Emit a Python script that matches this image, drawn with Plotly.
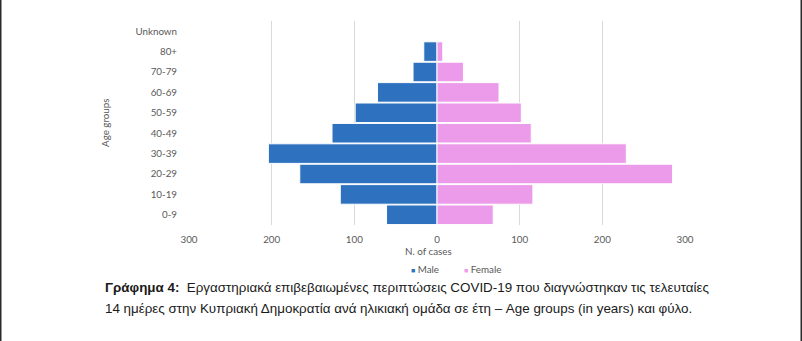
import plotly.graph_objects as go

# Age groups, bottom to top
age_groups = ["0-9", "10-19", "20-29", "30-39", "40-49", "50-59",
              "60-69", "70-79", "80+", "Unknown"]
male = [61, 117, 166, 204, 127, 99, 72, 29, 16, 0]
female = [68, 116, 285, 229, 114, 102, 75, 32, 7, 0]

tick_values = [-300, -200, -100, 0, 100, 200, 300]
tick_labels = ["300", "200", "100", "0", "100", "200", "300"]

MALE_COLOR = "#2E72BF"
FEMALE_COLOR = "#EC9AEA"
AXIS_TEXT = "#595959"

W, H = 802, 341
L, R, T, B = 189, 117, 21, 116
PW, PH = W - L - R, H - T - B


def px_x(p):
    return (p - L) / PW


def px_y(p):
    return (H - B - p) / PH


fig = go.Figure()
fig.add_trace(go.Bar(
    y=age_groups, x=[-v for v in male], orientation="h", name="Male",
    marker=dict(color=MALE_COLOR, line=dict(color="white", width=1)),
))
fig.add_trace(go.Bar(
    y=age_groups, x=female, orientation="h", name="Female",
    marker=dict(color=FEMALE_COLOR, line=dict(color="white", width=1)),
))

fig.update_layout(
    width=W, height=H,
    margin=dict(l=L, r=R, t=T, b=B),
    paper_bgcolor="white", plot_bgcolor="white",
    barmode="overlay", bargap=0.04,
    font=dict(family="Lato, Carlito, sans-serif", size=9.8, color=AXIS_TEXT),
    showlegend=False,
    xaxis=dict(range=[-300, 300], tickvals=tick_values, ticktext=tick_labels,
               showgrid=True, gridcolor="#D9D9D9", gridwidth=1,
               zeroline=False, showline=False, ticks="outside", ticklen=5,
               tickcolor="rgba(0,0,0,0)", fixedrange=True),
    yaxis=dict(categoryorder="array", categoryarray=age_groups,
               showgrid=False, zeroline=False, showline=False,
               ticks="outside", ticklen=9, tickcolor="rgba(0,0,0,0)"),
)

small = dict(size=9.8, color=AXIS_TEXT)

# axis titles
fig.add_annotation(text="N. of cases", xref="paper", yref="paper",
                   x=px_x(428), y=px_y(251), xanchor="center", yanchor="middle",
                   showarrow=False, font=small)
fig.add_annotation(text="Age groups", xref="paper", yref="paper",
                   x=px_x(105), y=px_y(123), textangle=-90, xanchor="center",
                   yanchor="middle", showarrow=False, font=small)

# legend entries
fig.add_annotation(text=f"<span style='color:{MALE_COLOR};font-size:7px'>■</span> Male",
                   xref="paper", yref="paper", x=px_x(409), y=px_y(269),
                   xanchor="left", yanchor="middle", showarrow=False, font=small)
fig.add_annotation(text=f"<span style='color:{FEMALE_COLOR};font-size:7px'>■</span> Female",
                   xref="paper", yref="paper", x=px_x(462), y=px_y(269),
                   xanchor="left", yanchor="middle", showarrow=False, font=small)

# caption
cap_font = dict(family="Liberation Sans, Arial, sans-serif", size=13.4, color="#1a1a1a")
fig.add_annotation(
    text="<b>Γράφημα 4:</b>  Εργαστηριακά επιβεβαιωμένες περιπτώσεις COVID-19 "
         "που διαγνώστηκαν τις τελευταίες",
    xref="paper", yref="paper", x=px_x(103), y=px_y(287),
    xanchor="left", yanchor="middle", showarrow=False, font=cap_font)
fig.add_annotation(
    text="14 ημέρες στην Κυπριακή Δημοκρατία ανά ηλικιακή ομάδα σε έτη – "
         "Age groups (in years) και φύλο.",
    xref="paper", yref="paper", x=px_x(103), y=px_y(308),
    xanchor="left", yanchor="middle", showarrow=False, font=cap_font)

# page frame edges
for xp in (0.75, 801.25):
    fig.add_shape(type="line", xref="paper", yref="paper",
                  x0=px_x(xp), x1=px_x(xp), y0=px_y(0), y1=px_y(H),
                  line=dict(color="#2b2b2b", width=1.5))

fig.write_html("out.html")
